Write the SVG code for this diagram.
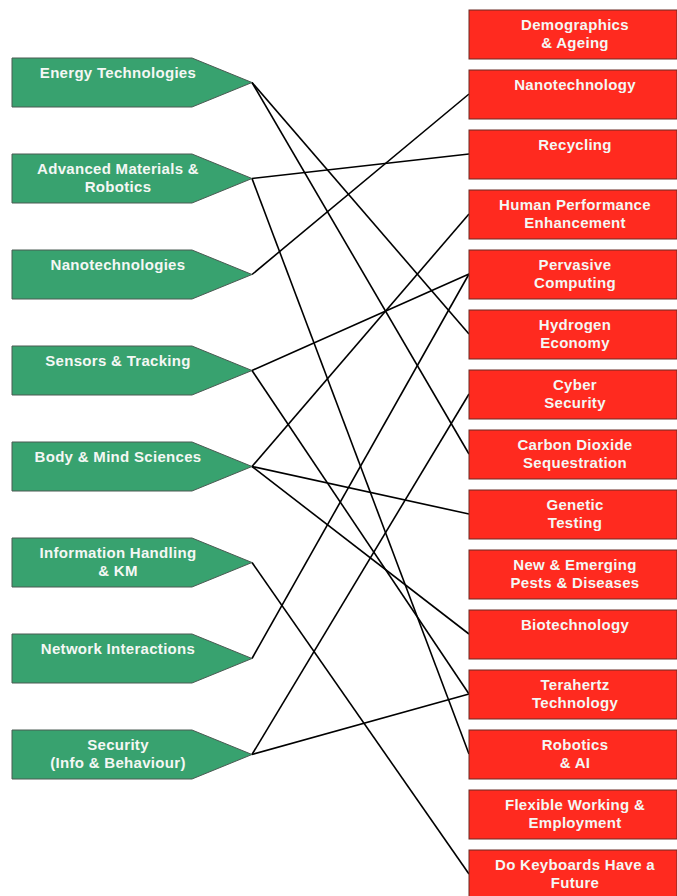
<svg xmlns="http://www.w3.org/2000/svg" width="677" height="896" viewBox="0 0 677 896">
  <style>
    .src { fill: #38a26f; stroke: #4a5a52; stroke-width: 1; }
    .dst { fill: #ff2a1f; stroke: #6b2a25; stroke-width: 1; }
    .lbl { font-family: "Liberation Sans", Arial, sans-serif; font-weight: bold; font-size: 15px; letter-spacing: 0.3px; fill: #f4f7f4; text-anchor: middle; }
    .link { stroke: #000; stroke-width: 1.6; fill: none; }
  </style>
  <defs>
    <polygon id="arrow" points="0,0 180,0 240,24.5 180,49 0,49"/>
  </defs>

  <rect width="677" height="896" fill="#fff"/>

  <!-- connectors -->
  <g id="links">
    <line class="link" x1="252" y1="82.5" x2="469" y2="334"/>
    <line class="link" x1="252" y1="82.5" x2="469" y2="454"/>
    <line class="link" x1="252" y1="178.5" x2="469" y2="154"/>
    <line class="link" x1="252" y1="178.5" x2="469" y2="754"/>
    <line class="link" x1="252" y1="274.5" x2="469" y2="94"/>
    <line class="link" x1="252" y1="370.5" x2="469" y2="274"/>
    <line class="link" x1="252" y1="370.5" x2="469" y2="694"/>
    <line class="link" x1="252" y1="466.5" x2="469" y2="214"/>
    <line class="link" x1="252" y1="466.5" x2="469" y2="514"/>
    <line class="link" x1="252" y1="466.5" x2="469" y2="634"/>
    <line class="link" x1="252" y1="562.5" x2="469" y2="874"/>
    <line class="link" x1="252" y1="658.5" x2="469" y2="274"/>
    <line class="link" x1="252" y1="754.5" x2="469" y2="394"/>
    <line class="link" x1="252" y1="754.5" x2="469" y2="694"/>
  </g>

  <!-- source themes -->
  <g id="energy" transform="translate(12,58)"><use href="#arrow" class="src"/><text class="lbl" x="106" y="20">Energy Technologies</text></g>
  <g id="materials" transform="translate(12,154)"><use href="#arrow" class="src"/><text class="lbl" x="106" y="20">Advanced Materials &amp;</text><text class="lbl" x="106" y="38">Robotics</text></g>
  <g id="nanotechnologies" transform="translate(12,250)"><use href="#arrow" class="src"/><text class="lbl" x="106" y="20">Nanotechnologies</text></g>
  <g id="sensors" transform="translate(12,346)"><use href="#arrow" class="src"/><text class="lbl" x="106" y="20">Sensors &amp; Tracking</text></g>
  <g id="body-mind" transform="translate(12,442)"><use href="#arrow" class="src"/><text class="lbl" x="106" y="20">Body &amp; Mind Sciences</text></g>
  <g id="information" transform="translate(12,538)"><use href="#arrow" class="src"/><text class="lbl" x="106" y="20">Information Handling</text><text class="lbl" x="106" y="38">&amp; KM</text></g>
  <g id="network" transform="translate(12,634)"><use href="#arrow" class="src"/><text class="lbl" x="106" y="20">Network Interactions</text></g>
  <g id="security" transform="translate(12,730)"><use href="#arrow" class="src"/><text class="lbl" x="106" y="20">Security</text><text class="lbl" x="106" y="38">(Info &amp; Behaviour)</text></g>

  <!-- target topics -->
  <g id="demographics"><rect class="dst" x="469" y="10" width="208" height="49"/><text class="lbl" x="575" y="30">Demographics</text><text class="lbl" x="575" y="48">&amp; Ageing</text></g>
  <g id="nanotechnology"><rect class="dst" x="469" y="70" width="208" height="49"/><text class="lbl" x="575" y="90">Nanotechnology</text></g>
  <g id="recycling"><rect class="dst" x="469" y="130" width="208" height="49"/><text class="lbl" x="575" y="150">Recycling</text></g>
  <g id="human-performance"><rect class="dst" x="469" y="190" width="208" height="49"/><text class="lbl" x="575" y="210">Human Performance</text><text class="lbl" x="575" y="228">Enhancement</text></g>
  <g id="pervasive"><rect class="dst" x="469" y="250" width="208" height="49"/><text class="lbl" x="575" y="270">Pervasive</text><text class="lbl" x="575" y="288">Computing</text></g>
  <g id="hydrogen"><rect class="dst" x="469" y="310" width="208" height="49"/><text class="lbl" x="575" y="330">Hydrogen</text><text class="lbl" x="575" y="348">Economy</text></g>
  <g id="cyber"><rect class="dst" x="469" y="370" width="208" height="49"/><text class="lbl" x="575" y="390">Cyber</text><text class="lbl" x="575" y="408">Security</text></g>
  <g id="carbon"><rect class="dst" x="469" y="430" width="208" height="49"/><text class="lbl" x="575" y="450">Carbon Dioxide</text><text class="lbl" x="575" y="468">Sequestration</text></g>
  <g id="genetic"><rect class="dst" x="469" y="490" width="208" height="49"/><text class="lbl" x="575" y="510">Genetic</text><text class="lbl" x="575" y="528">Testing</text></g>
  <g id="pests"><rect class="dst" x="469" y="550" width="208" height="49"/><text class="lbl" x="575" y="570">New &amp; Emerging</text><text class="lbl" x="575" y="588">Pests &amp; Diseases</text></g>
  <g id="biotechnology"><rect class="dst" x="469" y="610" width="208" height="49"/><text class="lbl" x="575" y="630">Biotechnology</text></g>
  <g id="terahertz"><rect class="dst" x="469" y="670" width="208" height="49"/><text class="lbl" x="575" y="690">Terahertz</text><text class="lbl" x="575" y="708">Technology</text></g>
  <g id="robotics"><rect class="dst" x="469" y="730" width="208" height="49"/><text class="lbl" x="575" y="750">Robotics</text><text class="lbl" x="575" y="768">&amp; AI</text></g>
  <g id="flexible"><rect class="dst" x="469" y="790" width="208" height="49"/><text class="lbl" x="575" y="810">Flexible Working &amp;</text><text class="lbl" x="575" y="828">Employment</text></g>
  <g id="keyboards"><rect class="dst" x="469" y="850" width="208" height="49"/><text class="lbl" x="575" y="870">Do Keyboards Have a</text><text class="lbl" x="575" y="888">Future</text></g>
</svg>
